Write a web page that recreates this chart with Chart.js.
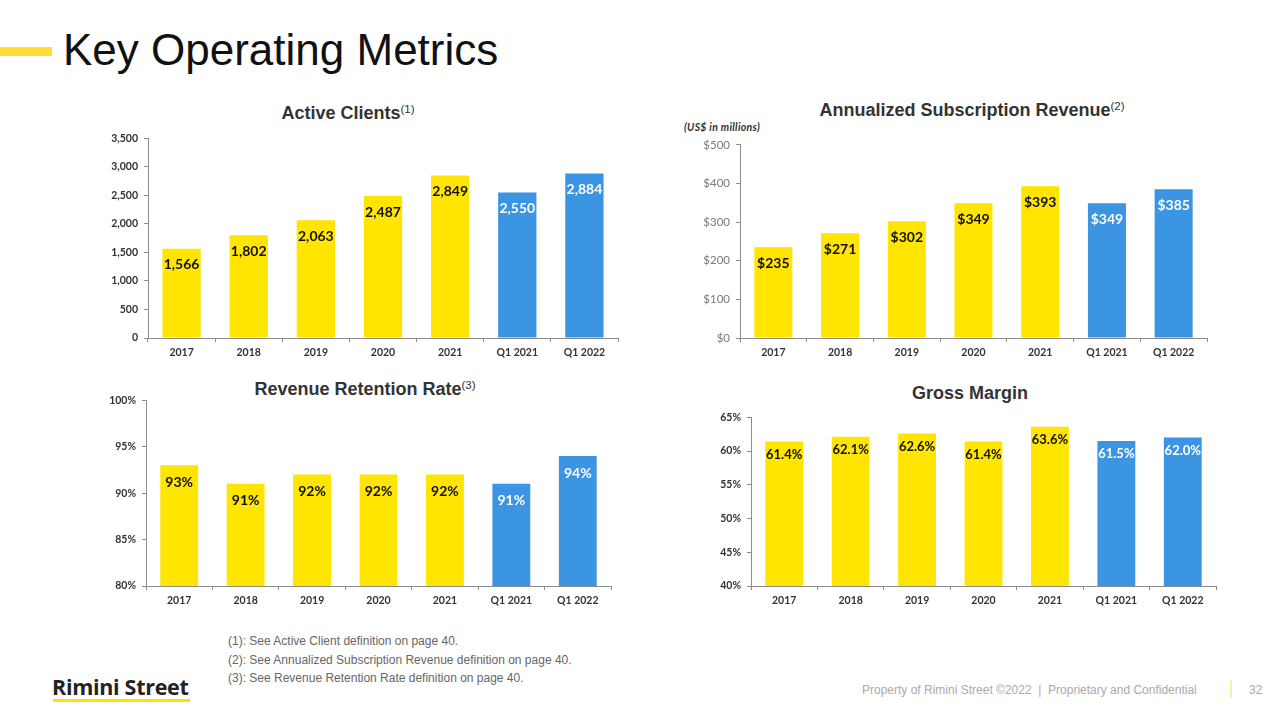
<!DOCTYPE html>
<html>
<head>
<meta charset="utf-8">
<script src="https://cdn.jsdelivr.net/npm/chart.js@4/dist/chart.umd.min.js"></script>
<style>
  html, body { margin: 0; padding: 0; background: #fff; }
  body { width: 1280px; height: 720px; position: relative; overflow: hidden; font-family: 'Liberation Sans', Arial, sans-serif; }
  .abs { position: absolute; }
  canvas { position: absolute; }
  .page-title { left: 63px; top: 25px; font-size: 44px; color: #111; white-space: nowrap; }
  .title-bar { left: 0; top: 47px; width: 52px; height: 9px; background: #ffdd33; }
  .chart-title { font-weight: bold; font-size: 18px; color: #333; white-space: nowrap; transform: translateX(-50%); }
  .chart-title sup { font-size: 11.5px; font-weight: normal; vertical-align: 6px; line-height: 0; }
  .unit { left: 684px; top: 121px; font: italic bold 10.5px Lato, sans-serif; color: #333; letter-spacing: 0.3px; }
  .notes { left: 228px; top: 632px; font-size: 12px; color: #666; line-height: 18.5px; }
  .logo { left: 52px; top: 672px; font: bold 21.5px 'Open Sans', sans-serif; color: #222; letter-spacing: -0.3px; }
  .logo-line { left: 53px; top: 699px; width: 137px; height: 3px; background: #ffe100; }
  .footer { left: 862px; top: 683px; font-size: 12px; color: #aaa; white-space: nowrap; }
  .footer-bar { left: 1230px; top: 680px; width: 2px; height: 18px; background: #fbf0a8; }
  .page-num { left: 1249px; top: 683px; font-size: 12px; color: #aaa; }
</style>
</head>
<body>
<div class="abs title-bar"></div>
<div class="abs page-title">Key Operating Metrics</div>

<div class="abs chart-title" style="left:348px; top:103px;">Active Clients<sup>(1)</sup></div>
<div class="abs chart-title" style="left:972px; top:100px;">Annualized Subscription Revenue<sup>(2)</sup></div>
<div class="abs unit">(US$ in millions)</div>
<div class="abs chart-title" style="left:365px; top:379px;">Revenue Retention Rate<sup>(3)</sup></div>
<div class="abs chart-title" style="left:970px; top:383px;">Gross Margin</div>

<canvas id="activeClientsChart" width="536" height="242" style="left:88px; top:126px;"></canvas>
<canvas id="subscriptionChart" width="533" height="236" style="left:680px; top:132px;"></canvas>
<canvas id="retentionChart" width="531" height="228" style="left:86px; top:388px;"></canvas>
<canvas id="grossMarginChart" width="531" height="211" style="left:691px; top:405px;"></canvas>

<div class="abs notes">
  (1): See Active Client definition on page 40.<br>
  (2): See Annualized Subscription Revenue definition on page 40.<br>
  (3): See Revenue Retention Rate definition on page 40.
</div>
<div class="abs logo">Rimini Street</div>
<div class="abs logo-line"></div>
<div class="abs footer">Property of Rimini Street ©2022&nbsp; |&nbsp; Proprietary and Confidential</div>
<div class="abs footer-bar"></div>
<div class="abs page-num">32</div>

<script>
// data
const categories = ['2017', '2018', '2019', '2020', '2021', 'Q1 2021', 'Q1 2022'];
const activeClients = [1566, 1802, 2063, 2487, 2849, 2550, 2884];
const subscriptionRevenue = [235, 271, 302, 349, 393, 349, 385];
const retentionRate = [93, 91, 92, 92, 92, 91, 94];
const grossMargin = [61.4, 62.1, 62.6, 61.4, 63.6, 61.5, 62.0];

const YELLOW = '#ffe500';
const BLUE = '#3b95e3';
const AXIS_GRAY = '#8c8c8c';

// quarterly bars are blue, full years yellow
const barColors = categories.map(c => c.startsWith('Q') ? BLUE : YELLOW);
const labelColors = categories.map(c => c.startsWith('Q') ? '#ffffff' : '#111111');

// value labels drawn just under the top of each bar
const barLabels = {
  id: 'barLabels',
  afterDatasetsDraw(chart, args, opts) {
    const ctx = chart.ctx;
    const meta = chart.getDatasetMeta(0);
    const values = chart.data.datasets[0].data;
    ctx.save();
    ctx.font = 'bold ' + opts.size + 'px Lato, sans-serif';
    ctx.textAlign = 'center';
    ctx.textBaseline = 'middle';
    meta.data.forEach((bar, i) => {
      ctx.fillStyle = labelColors[i];
      ctx.fillText(opts.format(values[i]), bar.x, bar.y + opts.offset);
    });
    ctx.restore();
  }
};

function makeBarChart(canvasId, values, cfg) {
  const canvas = document.getElementById(canvasId);
  if (!canvas) return null;

  return new Chart(canvas, {
    type: 'bar',
    data: {
      labels: categories,
      datasets: [{
        data: values,
        backgroundColor: barColors,
        borderWidth: 0,
        categoryPercentage: 1,
        barPercentage: 0.57
      }]
    },
    options: {
      responsive: false,
      animation: false,
      layout: { padding: { top: 8, right: 6, left: 0, bottom: 0 } },
      plugins: {
        legend: { display: false },
        tooltip: { enabled: false },
        barLabels: { format: cfg.format, offset: cfg.labelOffset || 16, size: cfg.labelSize || 14 }
      },
      scales: {
        x: {
          afterFit(scale) { scale.height = 30; },
          border: { display: true, color: AXIS_GRAY, width: 1 },
          grid: { display: true, drawOnChartArea: false, drawTicks: true, tickLength: 4, color: AXIS_GRAY, offset: true },
          ticks: { color: '#333', padding: 4, font: { family: 'Lato', size: 10.5, weight: 'bold' } }
        },
        y: {
          min: cfg.min,
          max: cfg.max,
          afterFit(scale) { scale.width = 60; },
          border: { display: true, color: AXIS_GRAY, width: 1 },
          grid: { display: true, drawOnChartArea: false, drawTicks: true, tickLength: 4, color: AXIS_GRAY },
          ticks: {
            stepSize: cfg.step,
            padding: 6,
            color: cfg.tickColor || '#333',
            font: cfg.tickFont || { family: 'Lato', size: 10.5, weight: 'bold' },
            callback: cfg.tickFormat
          }
        }
      }
    },
    plugins: [barLabels]
  });
}

makeBarChart('activeClientsChart', activeClients, {
  min: 0, max: 3500, step: 500,
  tickFormat: v => v.toLocaleString('en-US'),
  format: v => v.toLocaleString('en-US'),
  labelOffset: 16
});

makeBarChart('subscriptionChart', subscriptionRevenue, {
  min: 0, max: 500, step: 100,
  tickFormat: v => '$' + v,
  tickColor: '#7a7a7a',
  tickFont: { family: 'Lato', size: 11.5, weight: 'normal' },
  format: v => '$' + v,
  labelOffset: 16
});

makeBarChart('retentionChart', retentionRate, {
  min: 80, max: 100, step: 5,
  tickFormat: v => v + '%',
  format: v => v + '%',
  labelOffset: 17
});

makeBarChart('grossMarginChart', grossMargin, {
  min: 40, max: 65, step: 5,
  tickFormat: v => v + '%',
  format: v => v.toFixed(1) + '%',
  labelOffset: 13,
  labelSize: 13
});
</script>
</body>
</html>
